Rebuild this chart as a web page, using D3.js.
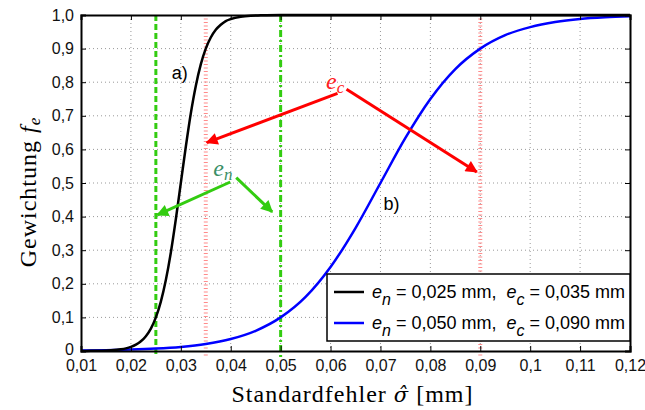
<!DOCTYPE html>
<html><head><meta charset="utf-8">
<script src="https://cdn.jsdelivr.net/npm/d3@7"></script>
<style>body{margin:0;background:#fff}svg{display:block}text{white-space:pre}</style>
</head><body>
<svg id="c" width="645" height="410"></svg>
<script>
// ---- data ----
const xTicks = [0.01,0.02,0.03,0.04,0.05,0.06,0.07,0.08,0.09,0.10,0.11,0.12];
const xTickLabels = ["0,01","0,02","0,03","0,04","0,05","0,06","0,07","0,08","0,09","0,1","0,11","0,12"];
const yTicks = [0,0.1,0.2,0.3,0.4,0.5,0.6,0.7,0.8,0.9,1.0];
const yTickLabels = ["0","0,1","0,2","0,3","0,4","0,5","0,6","0,7","0,8","0,9","1,0"];

// curve a): e_n = 0,025 mm, e_c = 0,035 mm
const aX = [0.010,0.012,0.014,0.016,0.018,0.019,0.020,0.021,0.022,0.023,0.024,0.025,0.026,0.027,0.028,0.029,0.030,0.031,0.032,0.033,0.034,0.035,0.036,0.037,0.038,0.039,0.040,0.042,0.044,0.046,0.050,0.060,0.080,0.100,0.120];
const aY = [0.0002,0.0004,0.0009,0.0021,0.0051,0.0079,0.0122,0.0188,0.0289,0.0441,0.0668,0.100,0.147,0.211,0.293,0.392,0.500,0.608,0.707,0.789,0.853,0.900,0.933,0.956,0.971,0.982,0.988,0.995,0.998,0.999,1.0,1.0,1.0,1.0,1.0];
// curve b): e_n = 0,050 mm, e_c = 0,090 mm
const bX = [0.010,0.015,0.020,0.025,0.030,0.035,0.040,0.045,0.050,0.055,0.060,0.065,0.070,0.075,0.080,0.085,0.090,0.095,0.100,0.105,0.110,0.115,0.120];
const bY = [0.0014,0.0024,0.0041,0.0071,0.0122,0.0209,0.0357,0.0602,0.100,0.161,0.250,0.366,0.500,0.634,0.750,0.839,0.900,0.940,0.964,0.979,0.988,0.993,0.996];

const greenDashed = [0.025];
const greenDashDot = [0.05];
const redDotted = [0.035, 0.09];

const legendLabels = [["n","0,025","c","0,035"],["n","0,050","c","0,090"]];
const seriesColors = ["#000000","#0000ff"];

// ---- layout ----
const svg = d3.select("#c");
const L = 81, R = 630, T = 15, B = 351;
const x = d3.scaleLinear().domain([0.01,0.12]).range([L,R]);
const y = d3.scaleLinear().domain([0,1]).range([B,T]);

// grid
const grid = svg.append("g").attr("stroke","#999").attr("stroke-width",1).attr("stroke-dasharray","1,3");
xTicks.slice(1,-1).forEach(v=>grid.append("line").attr("x1",x(v)).attr("x2",x(v)).attr("y1",T).attr("y2",B));
yTicks.slice(1,-1).forEach(v=>grid.append("line").attr("y1",y(v)).attr("y2",y(v)).attr("x1",L).attr("x2",R));

// vertical reference lines
redDotted.forEach(v=>svg.append("line").attr("x1",x(v)).attr("x2",x(v)).attr("y1",T).attr("y2",B+6)
  .attr("stroke","#ff8c8c").attr("stroke-width",4).attr("stroke-dasharray","1,2.5"));
greenDashed.forEach(v=>svg.append("line").attr("x1",x(v)).attr("x2",x(v)).attr("y1",T).attr("y2",B+6)
  .attr("stroke","#33cc11").attr("stroke-width",3).attr("stroke-dasharray","6,3"));
greenDashDot.forEach(v=>svg.append("line").attr("x1",x(v)).attr("x2",x(v)).attr("y1",T).attr("y2",B+6)
  .attr("stroke","#33cc11").attr("stroke-width",3).attr("stroke-dasharray","7,3,2,3"));

// curves
const line = d3.line().x(d=>x(d[0])).y(d=>y(d[1])).curve(d3.curveMonotoneX);
svg.append("path").datum(bX.map((v,i)=>[v,bY[i]])).attr("d",line).attr("fill","none").attr("stroke",seriesColors[1]).attr("stroke-width",2.5);
svg.append("path").datum(aX.map((v,i)=>[v,aY[i]])).attr("d",line).attr("fill","none").attr("stroke",seriesColors[0]).attr("stroke-width",2.5);

// axes
const fontSans = "'Liberation Sans', Arial, sans-serif";
const fontSerif = "'Liberation Serif', 'DejaVu Serif', serif";
const xb = svg.append("g").attr("transform",`translate(0,${B})`)
  .call(d3.axisBottom(x).tickValues(xTicks).tickFormat((d,i)=>xTickLabels[i]).tickSize(-5).tickPadding(9));
const xt = svg.append("g").attr("transform",`translate(0,${T})`)
  .call(d3.axisTop(x).tickValues(xTicks).tickFormat("").tickSize(-5));
const yl = svg.append("g").attr("transform",`translate(${L},0)`)
  .call(d3.axisLeft(y).tickValues(yTicks).tickFormat((d,i)=>yTickLabels[i]).tickSize(-5).tickPadding(7));
const yr = svg.append("g").attr("transform",`translate(${R},0)`)
  .call(d3.axisRight(y).tickValues(yTicks).tickFormat("").tickSize(-5));
[xb,xt,yl,yr].forEach(g=>{
  g.select(".domain").attr("stroke","#000").attr("stroke-width",2);
  g.selectAll(".tick line").attr("stroke","#000").attr("stroke-width",1);
  g.selectAll("text").attr("font-family",fontSans).attr("font-size",16).attr("fill","#111");
});
yl.selectAll(".tick text").filter(d=>d===0).attr("dy","0.2em");

// annotations
svg.append("text").attr("x",x(0.0282)).attr("y",y(0.81)).attr("font-family",fontSans).attr("font-size",18).text("a)");
svg.append("text").attr("x",x(0.0706)).attr("y",y(0.42)).attr("font-family",fontSans).attr("font-size",18).text("b)");

const defs = svg.append("defs");
function marker(id,color){
  defs.append("marker").attr("id",id).attr("viewBox","0 0 10 10").attr("refX",9).attr("refY",5)
    .attr("markerWidth",4.5).attr("markerHeight",4).attr("markerUnits","strokeWidth").attr("orient","auto")
    .append("path").attr("d","M0,0 L10,5 L0,10 z").attr("fill",color);
}
marker("mr","#ff0000"); marker("mg","#33cc11");
function arrow(x1,y1,x2,y2,color,m){
  svg.append("line").attr("x1",x(x1)).attr("y1",y(y1)).attr("x2",x(x2)).attr("y2",y(y2))
    .attr("stroke",color).attr("stroke-width",3).attr("marker-end",`url(#${m})`);
}
arrow(0.0614,0.767,0.0352,0.620,"#ff0000","mr");
arrow(0.0632,0.779,0.0893,0.533,"#ff0000","mr");
arrow(0.0399,0.503,0.0253,0.405,"#33cc11","mg");
arrow(0.0411,0.516,0.0483,0.414,"#33cc11","mg");

function subLabel(px,py,sub,color){
  const t = svg.append("text").attr("x",px).attr("y",py).attr("font-family",fontSerif).attr("font-size",24)
    .attr("font-style","italic").attr("fill",color);
  t.append("tspan").text("e");
  t.append("tspan").attr("font-size",17).attr("dy",4).text(sub);
}
subLabel(x(0.0591),y(0.78),"c","#ff2020");
subLabel(x(0.0365),y(0.52),"n","#3a8f66");

// axis titles
const xtitle = svg.append("text").attr("x",(L+R)/2-3).attr("y",402).attr("text-anchor","middle")
  .attr("font-family",fontSerif).attr("font-size",24).attr("letter-spacing",1);
xtitle.append("tspan").text("Standardfehler ");
xtitle.append("tspan").attr("font-style","italic").attr("font-family","'DejaVu Serif', serif").attr("font-size",21).text("σ\u0302");
xtitle.append("tspan").text(" [mm]");

const ytitle = svg.append("text").attr("transform",`translate(36,${(T+B)/2+9}) rotate(-90)`).attr("text-anchor","middle")
  .attr("font-family",fontSerif).attr("font-size",24).attr("letter-spacing",1);
ytitle.append("tspan").text("Gewichtung ");
ytitle.append("tspan").attr("font-style","italic").text("f");
ytitle.append("tspan").attr("font-style","italic").attr("font-size",17).attr("dy",4).text("e");

// legend
const lg = svg.append("g");
lg.append("rect").attr("x",327).attr("y",274).attr("width",303).attr("height",67).attr("fill","#fff").attr("stroke","#000").attr("stroke-width",1.5);
legendLabels.forEach((lab,i)=>{
  const yy = 292 + i*31;
  lg.append("line").attr("x1",334).attr("x2",364).attr("y1",yy).attr("y2",yy).attr("stroke",seriesColors[i]).attr("stroke-width",2.5);
  const t = lg.append("text").attr("x",372).attr("y",yy+6).attr("font-family",fontSans).attr("font-size",18);
  t.append("tspan").attr("font-style","italic").text("e");
  t.append("tspan").attr("font-size",16).attr("font-style","italic").attr("dy",7).text(lab[0]);
  t.append("tspan").attr("dy",-7).text(` = ${lab[1]} mm,  `);
  t.append("tspan").attr("font-style","italic").text("e");
  t.append("tspan").attr("font-size",16).attr("font-style","italic").attr("dy",7).text(lab[2]);
  t.append("tspan").attr("dy",-7).text(` = ${lab[3]} mm`);
});
</script>
</body></html>
